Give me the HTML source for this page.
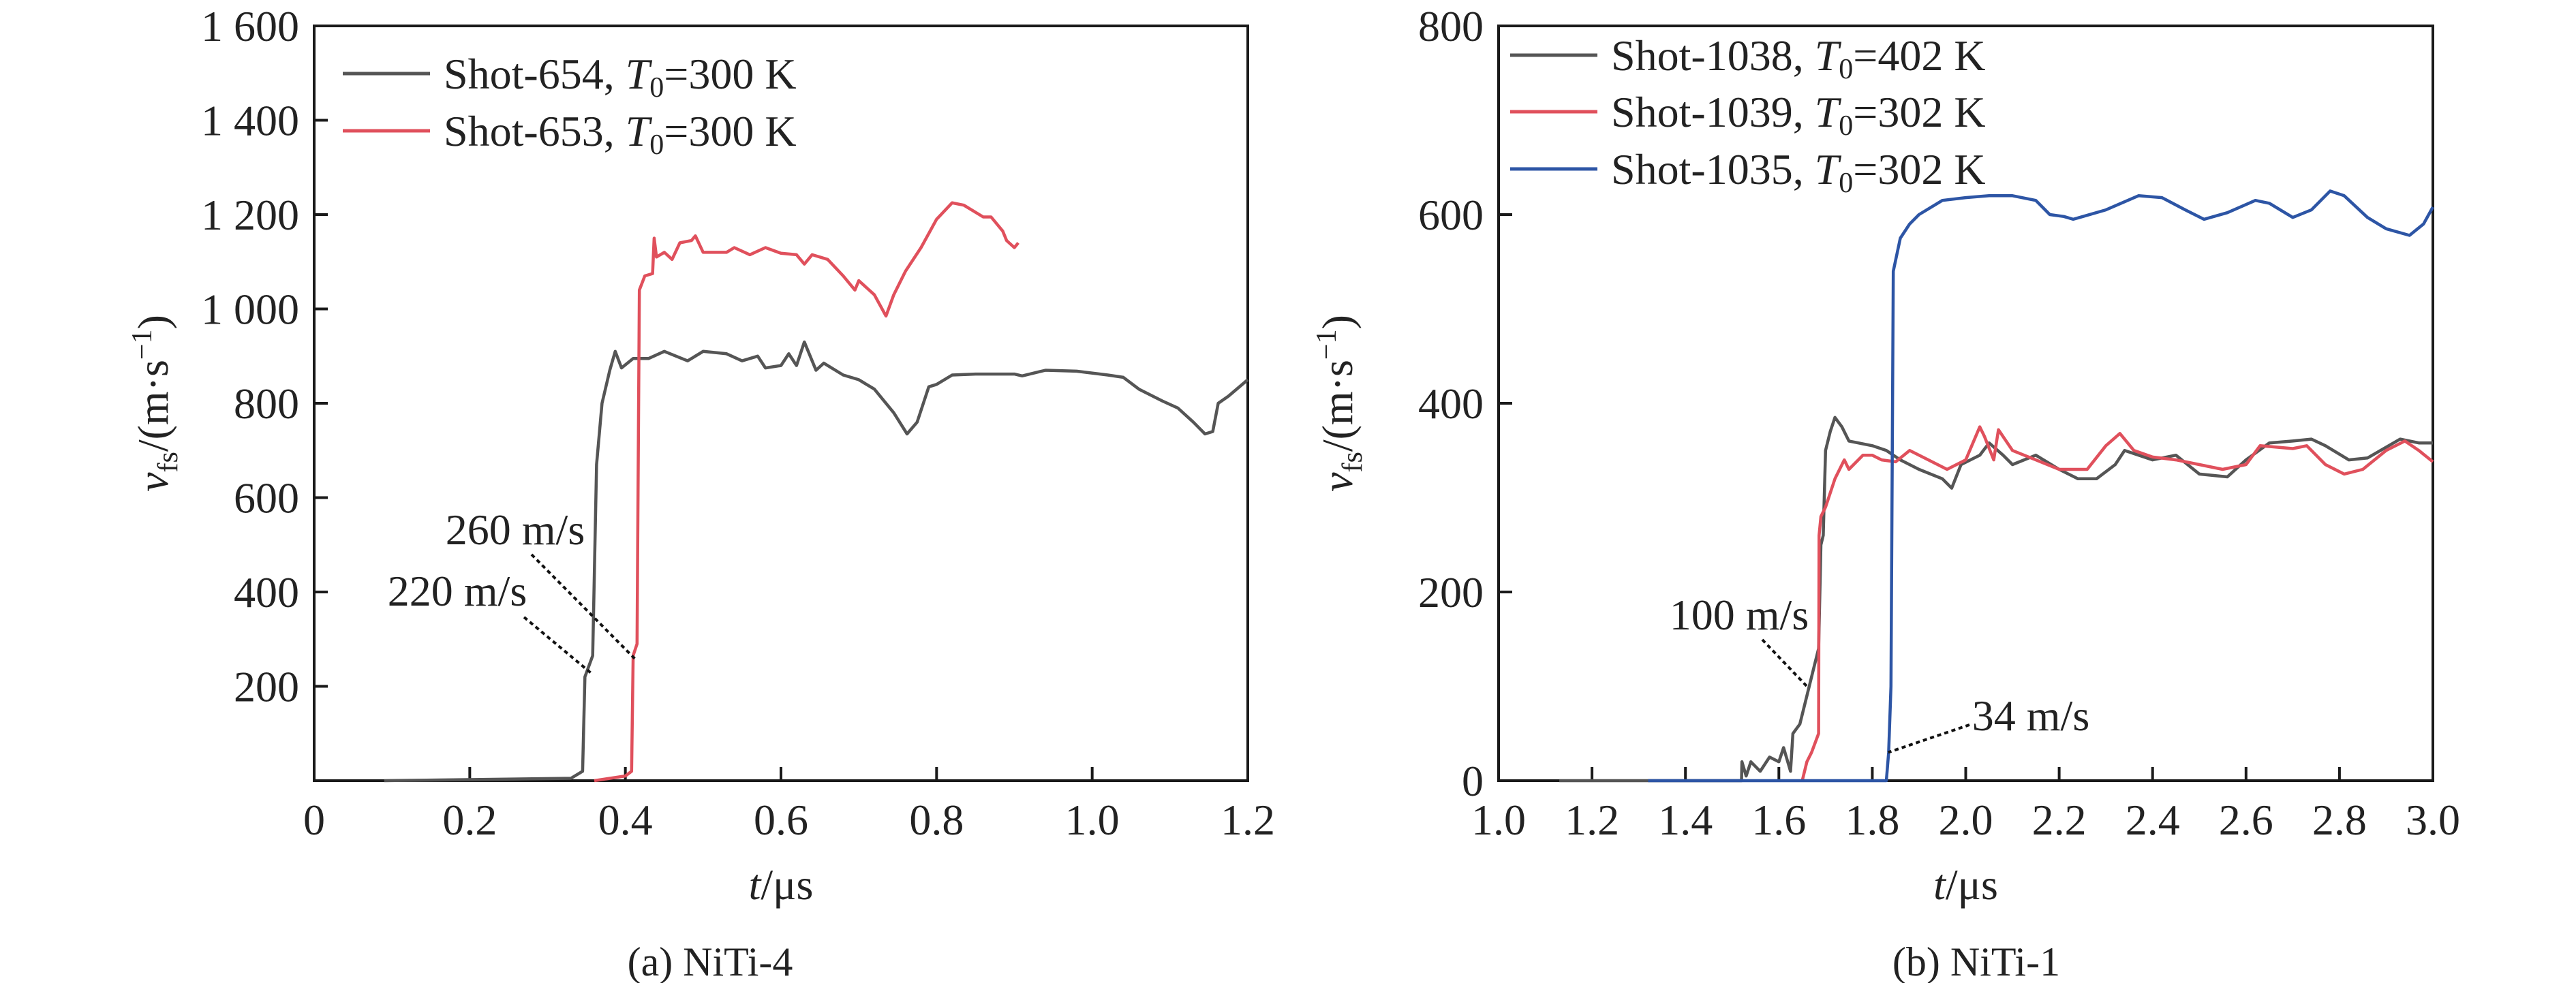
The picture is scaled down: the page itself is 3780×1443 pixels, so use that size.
<!DOCTYPE html>
<html><head><meta charset="utf-8"><style>
html,body{margin:0;padding:0;background:#fff;}
svg{display:block;font-family:"Liberation Serif",serif;}
</style></head><body>
<svg id="fig" width="3780" height="1443" viewBox="0 0 3780 1443" xmlns="http://www.w3.org/2000/svg">
<g id="pa"></g>
<g id="pb"></g>
</svg>
<script>
// Panel (a) data
const a654T=[0.09,0.33,0.345,0.348,0.358,0.363,0.37,0.38,0.387,0.395,0.41,0.43,0.45,0.48,0.5,0.53,0.55,0.57,0.58,0.6,0.61,0.62,0.63,0.645,0.655,0.68,0.7,0.72,0.745,0.762,0.775,0.79,0.8,0.82,0.85,0.9,0.91,0.94,0.98,1.02,1.04,1.06,1.09,1.11,1.13,1.145,1.155,1.162,1.175,1.2];
const a654V=[0,5,20,220,265,670,800,870,910,875,895,895,910,890,910,905,890,900,875,880,905,880,930,870,885,860,850,830,780,735,760,835,840,860,862,862,858,870,868,860,855,830,805,790,760,735,740,800,815,850];
const a653T=[0.36,0.40,0.408,0.41,0.411,0.415,0.418,0.425,0.435,0.437,0.44,0.45,0.46,0.47,0.485,0.49,0.5,0.53,0.54,0.56,0.58,0.6,0.62,0.63,0.64,0.66,0.68,0.695,0.7,0.72,0.735,0.745,0.76,0.78,0.8,0.82,0.835,0.86,0.87,0.885,0.89,0.9,0.905];
const a653V=[0,10,20,265,270,290,1040,1070,1075,1150,1110,1120,1105,1140,1145,1155,1120,1120,1130,1115,1130,1118,1115,1095,1115,1105,1070,1040,1060,1030,985,1030,1080,1130,1190,1225,1220,1195,1195,1165,1145,1130,1140];
const aXTicks=[0,0.2,0.4,0.6,0.8,1.0,1.2];
const aXLabels=["0","0.2","0.4","0.6","0.8","1.0","1.2"];
const aYTicks=[200,400,600,800,1000,1200,1400,1600];
const aYLabels=["200","400","600","800","1 000","1 200","1 400","1 600"];
// Panel (b) data
const b1038T=[1.13,1.52,1.521,1.53,1.54,1.56,1.58,1.6,1.61,1.625,1.63,1.645,1.66,1.675,1.685,1.69,1.695,1.7,1.71,1.72,1.735,1.75,1.8,1.83,1.86,1.9,1.95,1.97,1.99,2.03,2.05,2.08,2.1,2.15,2.2,2.24,2.28,2.32,2.34,2.4,2.45,2.5,2.56,2.6,2.65,2.7,2.74,2.77,2.82,2.86,2.93,2.97,3.0];
const b1038V=[0,0,20,5,20,10,25,20,35,10,50,60,90,120,140,250,260,350,370,385,375,360,355,350,340,330,320,310,335,345,358,345,335,345,330,320,320,335,350,340,345,325,322,340,358,360,362,355,340,342,362,358,358];
const b1039T=[1.65,1.66,1.67,1.685,1.686,1.69,1.7,1.72,1.74,1.75,1.78,1.8,1.82,1.85,1.88,1.92,1.96,2.0,2.03,2.04,2.06,2.07,2.1,2.15,2.2,2.26,2.3,2.33,2.36,2.4,2.45,2.5,2.55,2.6,2.63,2.7,2.73,2.77,2.81,2.85,2.9,2.94,2.97,3.0];
const b1039V=[0,20,30,50,260,280,290,320,340,330,345,345,340,338,350,340,330,340,375,365,340,372,350,340,330,330,355,368,350,343,340,335,330,335,355,352,355,335,325,330,350,360,350,338];
const b1035T=[1.32,1.83,1.835,1.84,1.845,1.86,1.88,1.9,1.95,2.0,2.05,2.1,2.15,2.18,2.21,2.23,2.3,2.37,2.42,2.47,2.51,2.56,2.62,2.65,2.7,2.74,2.78,2.81,2.86,2.9,2.95,2.98,3.0];
const b1035V=[0,0,30,100,540,575,590,600,615,618,620,620,615,600,598,595,605,620,618,605,595,602,615,612,597,605,625,620,597,585,578,590,608];
const bXTicks=[1.0,1.2,1.4,1.6,1.8,2.0,2.2,2.4,2.6,2.8,3.0];
const bXLabels=["1.0","1.2","1.4","1.6","1.8","2.0","2.2","2.4","2.6","2.8","3.0"];
const bYTicks=[0,200,400,600,800];
const bYLabels=["0","200","400","600","800"];

const NS="http://www.w3.org/2000/svg";
function mk(parent,tag,attrs){const e=document.createElementNS(NS,tag);for(const k in attrs)e.setAttribute(k,attrs[k]);parent.appendChild(e);return e;}
const TOP=38,BOT=1146;

function panel(g,L,R,x0,x1,y1,xt,xl,yt,yl,cap,capX){
  const sx=t=>L+(t-x0)/(x1-x0)*(R-L);
  const sy=v=>BOT-v/y1*(BOT-TOP);
  const frame=mk(g,'rect',{x:L,y:TOP,width:R-L,height:BOT-TOP,fill:'none',stroke:'#1a1a1a','stroke-width':4});
  
  
  xt.forEach((t,i)=>{
    if(t!==x0&&t!==x1){const tk=mk(g,'line',{x1:sx(t),x2:sx(t),y1:BOT,y2:BOT-20,stroke:'#1a1a1a','stroke-width':4});
      
      }
    const tl=mk(g,'text',{x:sx(t),y:1225,'font-size':64,'text-anchor':'middle',fill:'#222'});
    tl.textContent=xl[i];
    
    
  });
  yt.forEach((v,i)=>{
    if(v!==0&&v!==y1){const tk=mk(g,'line',{x1:L,x2:L+20,y1:sy(v),y2:sy(v),stroke:'#1a1a1a','stroke-width':4});
      
      }
    const tl=mk(g,'text',{x:L-22,y:sy(v)+22,'font-size':64,'text-anchor':'end',fill:'#222'});
    tl.textContent=yl[i];
    
    
  });
  const xtitle=mk(g,'text',{x:(L+R)/2,y:1320,'font-size':64,'text-anchor':'middle',fill:'#222'});
  xtitle.innerHTML='<tspan font-style="italic">t</tspan>/μs';
  
  
  const yx=L-215;
  const ytitle=mk(g,'text',{x:yx,y:(TOP+BOT)/2,'font-size':64,'text-anchor':'middle',fill:'#222',transform:`rotate(-90 ${yx} ${(TOP+BOT)/2})`});
  ytitle.innerHTML='<tspan font-style="italic">v</tspan><tspan font-size="42" dy="14">fs</tspan><tspan dy="-14">/(m·s</tspan><tspan font-size="42" dy="-24">−1</tspan><tspan dy="24">)</tspan>';
  
  
  const c=mk(g,'text',{x:capX,y:1432,'font-size':60,'text-anchor':'middle',fill:'#222'});
  c.textContent=cap;
  
  
  return {sx,sy};
}
function series(g,s,T,V,color,name){
  const d=T.map((t,i)=>(i?'L':'M')+s.sx(t).toFixed(1)+' '+s.sy(V[i]).toFixed(1)).join(' ');
  const p=mk(g,'path',{d,fill:'none',stroke:color,'stroke-width':4.5,'stroke-linejoin':'round'});
  
  
}
function legend(g,x,y,color,shot,temp){
  const ln=mk(g,'line',{x1:x,x2:x+128,y1:y,y2:y,stroke:color,'stroke-width':5});
  
  
  const t=mk(g,'text',{x:x+148,y:y+22,'font-size':64,fill:'#222'});
  t.innerHTML=shot+', <tspan font-style="italic">T</tspan><tspan font-size="42" dy="12">0</tspan><tspan dy="-12">='+temp+' K</tspan>';
  
  
}
function annot(g,s,tx,ty,x0,v0,label,lx,ly){
  const l=mk(g,'line',{x1:tx,y1:ty,x2:s.sx(x0),y2:s.sy(v0),stroke:'#111','stroke-width':4,'stroke-dasharray':'6 5'});
  
  
  const t=mk(g,'text',{x:lx,y:ly,'font-size':64,'text-anchor':'middle',fill:'#222'});
  t.textContent=label;
  
  
}
const ga=document.getElementById('pa'),gb=document.getElementById('pb');
const sa=panel(ga,461,1831,0,1.2,1600,aXTicks,aXLabels,aYTicks,aYLabels,'(a) NiTi-4',1042);
series(ga,sa,a654T,a654V,'#555555','series-shot-654');
series(ga,sa,a653T,a653V,'#e0505c','series-shot-653');
legend(ga,503,108,'#555555','Shot-654','300');
legend(ga,503,192,'#e0505c','Shot-653','300');
annot(ga,sa,780,814,0.4125,258,'260 m/s',756,799);
annot(ga,sa,769,906,0.356,228,'220 m/s',671,889);
const sb=panel(gb,2199,3570,1.0,3.0,800,bXTicks,bXLabels,bYTicks,bYLabels,'(b) NiTi-1',2900);
series(gb,sb,b1038T,b1038V,'#555555','series-shot-1038');
series(gb,sb,b1039T,b1039V,'#e0505c','series-shot-1039');
series(gb,sb,b1035T,b1035V,'#2d55a5','series-shot-1035');
legend(gb,2216,81,'#555555','Shot-1038','402');
legend(gb,2216,164,'#e0505c','Shot-1039','302');
legend(gb,2216,248,'#2d55a5','Shot-1035','302');
annot(gb,sb,2586,939,1.66,100,'100 m/s',2552,924);
annot(gb,sb,2890,1064,1.834,30,'34 m/s',2980,1072);
</script>
</body></html>
